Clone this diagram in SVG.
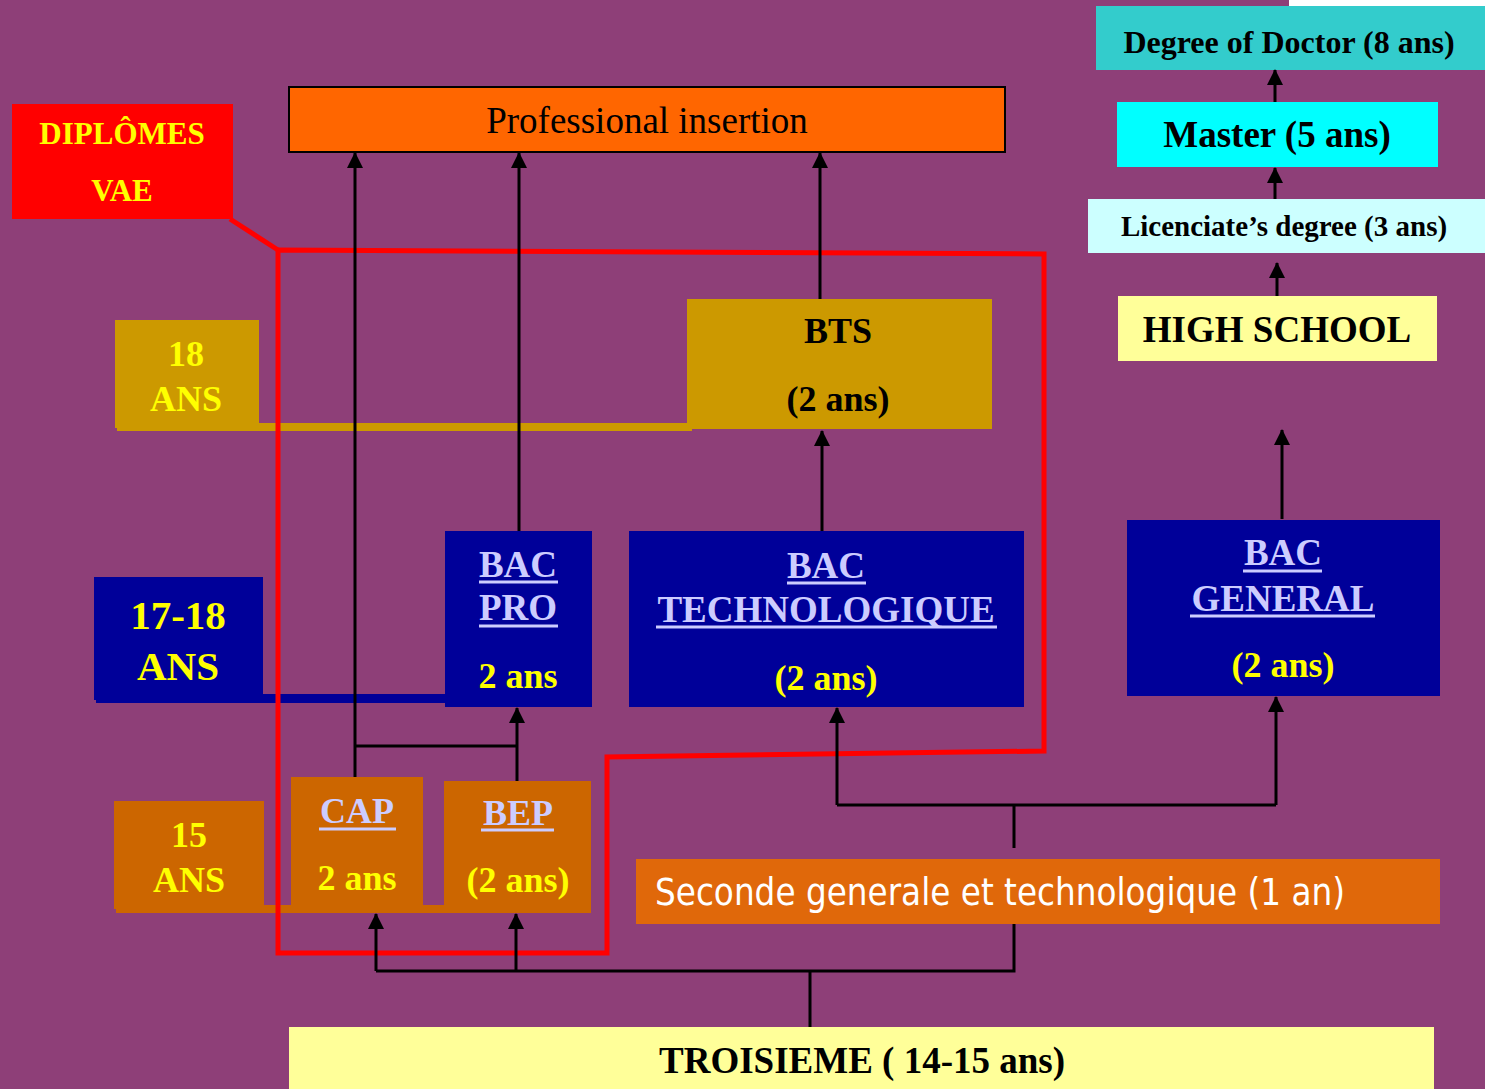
<svg xmlns="http://www.w3.org/2000/svg" width="1485" height="1089" viewBox="0 0 1485 1089">
<defs>
<style>
.s{font-family:"Liberation Serif","Times New Roman",serif;font-weight:bold;text-anchor:middle}
.y{fill:#FFFF00}
.k{fill:#000}
.l{fill:#CCCCFF}
.ul{stroke:#CCCCFF;stroke-width:3}
.c{stroke:#000;stroke-width:3;fill:none}
</style>
<marker id="ah" markerWidth="16" markerHeight="16" refX="15" refY="8" orient="auto" markerUnits="userSpaceOnUse" viewBox="0 0 16 16">
<path d="M0,0 L16,8 L0,16 Z" fill="#000"/>
</marker>
</defs>
<rect x="0" y="0" width="1485" height="1089" fill="#8E3F78"/>
<rect x="1289" y="0" width="196" height="6" fill="#FFFFFF"/>

<!-- bands -->
<rect x="117" y="423" width="575" height="8" fill="#CC9900"/>
<rect x="96" y="694" width="352" height="9" fill="#000099"/>
<rect x="116" y="905" width="475" height="8" fill="#CC6600"/>

<g id="doctor"><rect x="1096" y="6" width="389" height="64" fill="#33CCCC"/><text class="s k" x="1289" y="53" font-size="32">Degree of Doctor (8 ans)</text></g>
<g id="master"><rect x="1117" y="102" width="321" height="65" fill="#00FFFF"/><text class="s k" x="1277" y="147" font-size="37">Master (5 ans)</text></g>
<g id="licence"><rect x="1088" y="199" width="397" height="54" fill="#CCFFFF"/><text class="s k" x="1284" y="236" font-size="29">Licenciate’s degree (3 ans)</text></g>
<g id="highschool"><rect x="1118" y="296" width="319" height="65" fill="#FFFF99"/><text class="s k" x="1277" y="342" font-size="37">HIGH SCHOOL</text></g>

<g id="diplomes"><rect x="12" y="104" width="221" height="115" fill="#FF0000"/><text class="s y" x="122" y="144" font-size="31">DIPLÔMES</text><text class="s y" x="122" y="201" font-size="31">VAE</text></g>

<g id="prof"><rect x="289" y="87" width="716" height="65" fill="#FF6600" stroke="#000" stroke-width="2"/><text x="647" y="133" font-size="37" text-anchor="middle" font-family="Liberation Serif, serif">Professional insertion</text></g>

<g id="ans18"><rect x="115" y="320" width="144" height="108" fill="#CC9900"/><text class="s y" x="186" y="366" font-size="36">18</text><text class="s y" x="186" y="411" font-size="36">ANS</text></g>
<g id="bts"><rect x="687" y="299" width="305" height="130" fill="#CC9900"/><text class="s k" x="838" y="343" font-size="36">BTS</text><text class="s k" x="838" y="411" font-size="36">(2 ans)</text></g>

<g id="ans1718"><rect x="94" y="577" width="169" height="123" fill="#000099"/><text class="s y" x="178" y="629" font-size="41">17-18</text><text class="s y" x="178" y="680" font-size="41">ANS</text></g>
<g id="bacpro"><rect x="445" y="531" width="147" height="176" fill="#000099"/><text class="s l" x="518" y="577" font-size="37">BAC</text><line class="ul" x1="479" y1="582" x2="558" y2="582"/><text class="s l" x="518" y="620" font-size="37">PRO</text><line class="ul" x1="479" y1="626" x2="558" y2="626"/><text class="s y" x="518" y="688" font-size="36">2 ans</text></g>
<g id="bactech"><rect x="629" y="531" width="395" height="176" fill="#000099"/><text class="s l" x="826" y="578" font-size="37">BAC</text><line class="ul" x1="787" y1="583" x2="866" y2="583"/><text class="s l" x="826" y="622" font-size="37">TECHNOLOGIQUE</text><line class="ul" x1="656" y1="627" x2="997" y2="627"/><text class="s y" x="826" y="690" font-size="36">(2 ans)</text></g>
<g id="bacgen"><rect x="1127" y="520" width="313" height="176" fill="#000099"/><text class="s l" x="1283" y="565" font-size="37">BAC</text><line class="ul" x1="1243" y1="571" x2="1322" y2="571"/><text class="s l" x="1283" y="611" font-size="37">GENERAL</text><line class="ul" x1="1190" y1="616" x2="1375" y2="616"/><text class="s y" x="1283" y="677" font-size="36">(2 ans)</text></g>

<g id="ans15"><rect x="114" y="801" width="150" height="108" fill="#CC6600"/><text class="s y" x="189" y="847" font-size="36">15</text><text class="s y" x="189" y="892" font-size="36">ANS</text></g>
<g id="cap"><rect x="291" y="777" width="132" height="128" fill="#CC6600"/><text class="s l" x="357" y="823" font-size="36">CAP</text><line class="ul" x1="319" y1="829" x2="396" y2="829"/><text class="s y" x="357" y="890" font-size="36">2 ans</text></g>
<g id="bep"><rect x="444" y="781" width="147" height="132" fill="#CC6600"/><text class="s l" x="518" y="825" font-size="36">BEP</text><line class="ul" x1="481" y1="830" x2="554" y2="830"/><text class="s y" x="518" y="892" font-size="36">(2 ans)</text></g>

<g id="seconde"><rect x="636" y="859" width="804" height="65" fill="#E0680A"/><text x="655" y="905" font-size="37" fill="#FFFFFF" font-family="DejaVu Sans, sans-serif" textLength="690" lengthAdjust="spacingAndGlyphs">Seconde generale et technologique (1 an)</text></g>
<g id="troisieme"><rect x="289" y="1027" width="1145" height="62" fill="#FFFF99"/><text class="s k" x="862" y="1073" font-size="37">TROISIEME ( 14-15 ans)</text></g>

<g id="vae-outline" fill="none" stroke="#FF0000" stroke-width="5">
<path d="M230,219 L278,250"/>
<path d="M278,250 L1044,254 L1044,751 L607,757 L607,953 L278,953 Z"/>
</g>

<g id="connectors">
<path class="c" d="M355,777 V153" marker-end="url(#ah)"/>
<path class="c" d="M355,746 H517"/>
<path class="c" d="M517,781 V708" marker-end="url(#ah)"/>
<path class="c" d="M519,531 V153" marker-end="url(#ah)"/>
<path class="c" d="M820,299 V153" marker-end="url(#ah)"/>
<path class="c" d="M822,531 V431" marker-end="url(#ah)"/>
<path class="c" d="M1014,848 V805"/>
<path class="c" d="M837,805 H1276"/>
<path class="c" d="M837,805 V708" marker-end="url(#ah)"/>
<path class="c" d="M1276,805 V697" marker-end="url(#ah)"/>
<path class="c" d="M1282,519 V430" marker-end="url(#ah)"/>
<path class="c" d="M1277,296 V263" marker-end="url(#ah)"/>
<path class="c" d="M1275,199 V168" marker-end="url(#ah)"/>
<path class="c" d="M1275,102 V70" marker-end="url(#ah)"/>
<path class="c" d="M810,1027 V971"/>
<path class="c" d="M376,971 H1014 V924"/>
<path class="c" d="M376,971 V914" marker-end="url(#ah)"/>
<path class="c" d="M516,971 V914" marker-end="url(#ah)"/>
</g>
</svg>
